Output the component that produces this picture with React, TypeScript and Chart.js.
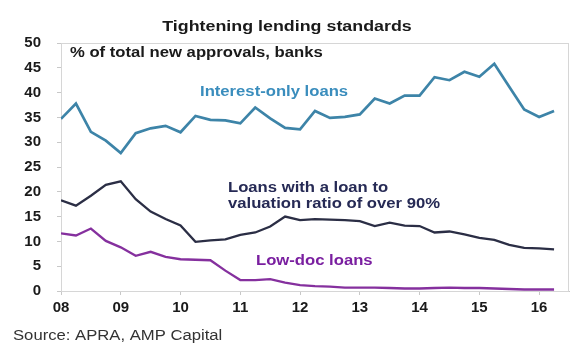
import React, { useEffect, useRef } from "react";
import { Chart, registerables } from "chart.js";

Chart.register(...registerables);

const quarters = [
  "2008Q1", "2008Q2", "2008Q3", "2008Q4",
  "2009Q1", "2009Q2", "2009Q3", "2009Q4",
  "2010Q1", "2010Q2", "2010Q3", "2010Q4",
  "2011Q1", "2011Q2", "2011Q3", "2011Q4",
  "2012Q1", "2012Q2", "2012Q3", "2012Q4",
  "2013Q1", "2013Q2", "2013Q3", "2013Q4",
  "2014Q1", "2014Q2", "2014Q3", "2014Q4",
  "2015Q1", "2015Q2", "2015Q3", "2015Q4",
  "2016Q1", "2016Q2",
];

const interestOnly = [
  34.7, 37.8, 32.1, 30.3, 27.8, 31.8, 32.8, 33.3, 32.0, 35.3,
  34.5, 34.4, 33.8, 37.0, 34.8, 32.9, 32.6, 36.3, 34.9, 35.1,
  35.6, 38.8, 37.8, 39.4, 39.4, 43.1, 42.5, 44.2, 43.2, 45.8,
  41.2, 36.6, 35.1, 36.3,
];

const highLvr = [
  18.3, 17.2, 19.2, 21.4, 22.1, 18.5, 16.0, 14.5, 13.2, 9.9,
  10.2, 10.4, 11.3, 11.8, 13.0, 15.0, 14.3, 14.5, 14.4, 14.3,
  14.1, 13.1, 13.8, 13.2, 13.1, 11.8, 12.0, 11.4, 10.7, 10.3,
  9.3, 8.7, 8.6, 8.4,
];

const lowDoc = [
  11.6, 11.2, 12.6, 10.1, 8.8, 7.1, 7.9, 6.9, 6.4, 6.3,
  6.2, 4.1, 2.2, 2.2, 2.4, 1.7, 1.2, 1.0, 0.9, 0.7,
  0.7, 0.7, 0.6, 0.5, 0.5, 0.6, 0.7, 0.6, 0.6, 0.5,
  0.4, 0.3, 0.3, 0.3,
];

const yTicks = [0, 5, 10, 15, 20, 25, 30, 35, 40, 45, 50];
const xTickYears = [2008, 2009, 2010, 2011, 2012, 2013, 2014, 2015, 2016];

const titleText = "Tightening lending standards";
const subtitleText = "% of total new approvals, banks";
const ioLabel = "Interest-only loans";
const lvrLabel = ["Loans with a loan to", "valuation ratio of over 90%"];
const lowDocLabel = "Low-doc loans";
const sourceText = "Source: APRA, AMP Capital";

const FONT = "'Liberation Sans', Arial, Helvetica, sans-serif";

function quarterToYear(q: string): number {
  const y = parseInt(q.slice(0, 4), 10);
  const n = parseInt(q.slice(5), 10);
  return y + (n - 1) / 4;
}

function toPoints(values: number[]) {
  return values.map((v, i) => ({ x: quarterToYear(quarters[i]), y: v }));
}

function drawStretched(
  ctx: CanvasRenderingContext2D,
  text: string,
  x: number,
  y: number,
  font: string,
  color: string,
  align: CanvasTextAlign,
  sx = 1.19
) {
  ctx.save();
  ctx.font = font;
  ctx.fillStyle = color;
  ctx.textBaseline = "middle";
  ctx.textAlign = align;
  ctx.translate(x, y);
  ctx.scale(sx, 1);
  ctx.fillText(text, 0, 0);
  ctx.restore();
}

const framePlugin = {
  id: "frame",
  beforeDatasetsDraw(chart: any) {
    const { ctx, chartArea } = chart;
    ctx.save();
    ctx.strokeStyle = "#d6d6d6";
    ctx.lineWidth = 1;
    ctx.strokeRect(
      Math.round(chartArea.left) + 0.5,
      Math.round(chartArea.top) + 0.5,
      Math.round(chartArea.right - chartArea.left) - 1,
      Math.round(chartArea.bottom - chartArea.top)
    );
    ctx.restore();
  },
  afterDraw(chart: any) {
    const ctx = chart.ctx as CanvasRenderingContext2D;
    drawStretched(ctx, titleText, 287, 27, `bold 15px ${FONT}`, "#1a1a1a", "center");
    drawStretched(ctx, subtitleText, 70, 53, `bold 14px ${FONT}`, "#1a1a1a", "left");
    drawStretched(ctx, ioLabel, 200, 92, `bold 14px ${FONT}`, "#3a8dbd", "left");
    drawStretched(ctx, lvrLabel[0], 228, 188.5, `bold 14px ${FONT}`, "#262a55", "left");
    drawStretched(ctx, lvrLabel[1], 228, 204.5, `bold 14px ${FONT}`, "#262a55", "left");
    drawStretched(ctx, lowDocLabel, 256, 261.5, `bold 14px ${FONT}`, "#7a1fa0", "left");
    drawStretched(ctx, sourceText, 13, 336, `14px ${FONT}`, "#333333", "left");
  },
};

export default function App() {
  const canvasRef = useRef<HTMLCanvasElement | null>(null);

  useEffect(() => {
    if (!canvasRef.current) return;
    const chart = new Chart(canvasRef.current, {
      type: "line",
      data: {
        datasets: [
          {
            label: ioLabel,
            data: toPoints(interestOnly),
            borderColor: "#3d84a8",
            borderWidth: 2.7,
            pointRadius: 0,
            tension: 0,
          },
          {
            label: lvrLabel.join(" "),
            data: toPoints(highLvr),
            borderColor: "#2b2e45",
            borderWidth: 2.3,
            pointRadius: 0,
            tension: 0,
          },
          {
            label: lowDocLabel,
            data: toPoints(lowDoc),
            borderColor: "#85309e",
            borderWidth: 2.3,
            pointRadius: 0,
            tension: 0,
          },
        ],
      },
      options: {
        animation: false,
        responsive: true,
        maintainAspectRatio: false,
        layout: { padding: { top: 43, right: 11, left: 0, bottom: 0 } },
        plugins: {
          legend: { display: false },
          tooltip: { enabled: false },
          title: { display: false },
        },
        scales: {
          x: {
            type: "linear",
            min: 2008,
            max: 2016.5,
            afterFit: (s: any) => {
              s.height = 60;
            },
            afterBuildTicks: (s: any) => {
              s.ticks = xTickYears.map((v) => ({ value: v }));
            },
            ticks: {
              autoSkip: false,
              maxRotation: 0,
              padding: 4,
              color: "#1a1a1a",
              font: { family: FONT, size: 15, weight: "bold" },
              callback: (v: any) => String(Number(v) % 100).padStart(2, "0"),
            },
            grid: {
              drawOnChartArea: false,
              tickLength: 4,
              color: "#c8c8c8",
            },
            border: { color: "#c8c8c8" },
          },
          y: {
            min: 0,
            max: 50,
            afterFit: (s: any) => {
              s.width = 61;
            },
            afterBuildTicks: (s: any) => {
              s.ticks = yTicks.map((v) => ({ value: v }));
            },
            ticks: {
              padding: 16,
              color: "#1a1a1a",
              font: { family: FONT, size: 15, weight: "bold" },
            },
            grid: {
              drawOnChartArea: false,
              tickLength: 4,
              color: "#c8c8c8",
            },
            border: { color: "#c8c8c8" },
          },
        },
      },
      plugins: [framePlugin],
    });
    return () => chart.destroy();
  }, []);

  return (
    <div style={{ position: "absolute", left: 0, top: 0, width: 580, height: 351, background: "#ffffff" }}>
      <canvas ref={canvasRef} />
    </div>
  );
}
